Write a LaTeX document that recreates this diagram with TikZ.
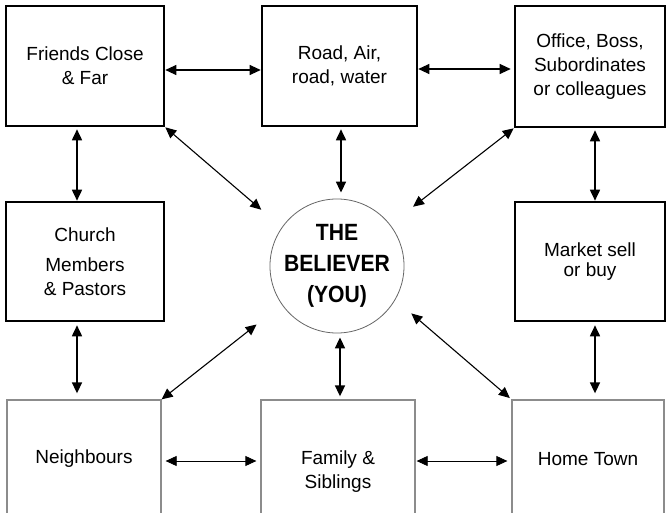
\documentclass[tikz,border=0pt]{standalone}
\usepackage{fontspec}
\setmainfont{Liberation Sans}
\newfontfamily\condfont[FakeStretch=0.9]{Liberation Sans}
\usetikzlibrary{arrows.meta}
\begin{document}
\begin{tikzpicture}[x=1pt,y=-1pt,
  txt/.style={font=\fontsize{19}{24}\selectfont, align=center},
  topbox/.style={draw=black, line width=2.6pt, txt, inner sep=0pt},
  lowbox/.style={draw=black!45, line width=1.3pt, inner sep=0pt},
  believer/.style={circle, draw=black!60, line width=0.8pt, minimum size=124pt, inner sep=0pt,
    font=\condfont\bfseries\fontsize{23.5}{31}\selectfont, align=center},
  arr/.style={{Triangle[length=11pt,width=10pt]}-{Triangle[length=11pt,width=10pt]}, line width=1.1pt},
  varr/.style={arr, line width=1.7pt},
  thinarr/.style={arr, line width=0.8pt}
]
\useasboundingbox (0,0) rectangle (667,513);
\clip (0,0) rectangle (667,513);

% top row
\node[topbox, minimum width=158pt, minimum height=120pt] (fr) at (85,66) {Friends Close\\\& Far};
\node[topbox, minimum width=155pt, minimum height=120pt] (rd) at (339.5,66) {Road, Air,\\road, water};
\node[topbox, minimum width=150pt, minimum height=121pt] (of) at (590,66.5) {Office, Boss,\\Subordinates\\or colleagues};
% middle row
\node[topbox, minimum width=158pt, minimum height=119pt] (ch) at (85,261.5) {Church\\[6pt]Members\\\& Pastors};
\node[topbox, minimum width=150pt, minimum height=119pt] (mk) at (590,261.5) {Market sell\\[-4pt]or buy};
\node[believer] (bel) at (337,266) {THE\\BELIEVER\\(YOU)};
% bottom row (cut by the lower edge)
\node[lowbox, minimum width=154pt, minimum height=120pt] (nb) at (84,460) {};
\node[lowbox, minimum width=154pt, minimum height=120pt] (fa) at (338,460) {};
\node[lowbox, minimum width=152pt, minimum height=120pt] (ht) at (588,460) {};
\node[txt] (nbT) at (84,459) {Neighbours};
\node[txt] (faT) at (338,472) {Family \&\\Siblings};
\node[txt] (htT) at (588,459) {Home Town};

% horizontal connectors
\draw[arr] ([yshift=-4pt]fr.east) -- ([yshift=-4pt]rd.west);
\draw[arr, shorten >=3pt] ([yshift=-3pt]rd.east) -- ([yshift=-3pt]rd.east -| of.west);
\draw[thinarr, shorten <=4pt, shorten >=4pt] ([yshift=-1pt]nb.east) -- ([yshift=-1pt]fa.west);
\draw[thinarr, shorten <=1pt, shorten >=4pt] ([yshift=-1pt]fa.east) -- ([yshift=-1pt]ht.west);

% vertical connectors
\draw[varr, shorten <=2pt] ([xshift=-8pt]fr.south) -- ([xshift=-8pt]ch.north);
\draw[varr, shorten <=2pt] ([xshift=5pt]of.south) -- ([xshift=5pt]mk.north);
\draw[varr, shorten <=3pt, shorten >=6pt] ([xshift=-8pt]ch.south) -- ([xshift=-8pt]ch.south |- nb.north);
\draw[varr, shorten <=3pt, shorten >=6pt] ([xshift=5pt]mk.south) -- ([xshift=5pt]mk.south |- ht.north);
\draw[varr, shorten <=2pt, shorten >=6pt] ([xshift=1.5pt]rd.south) -- ([xshift=1.5pt]rd.south |- bel.north);
\draw[varr, shorten <=4pt, shorten >=3pt] ([xshift=3pt]bel.south) -- ([xshift=3pt]bel.south |- fa.north);

% diagonal connectors
\draw[arr, shorten >=27pt] (fr.south east) -- (bel.145);
\draw[arr, shorten >=29pt] (of.south west) -- (bel);
\draw[arr, shorten >=32pt] (nb.north east) -- (bel.-145);
\draw[arr, shorten <=2pt, shorten >=21pt] (ht.north west) -- (bel.-30);
\end{tikzpicture}
\end{document}
